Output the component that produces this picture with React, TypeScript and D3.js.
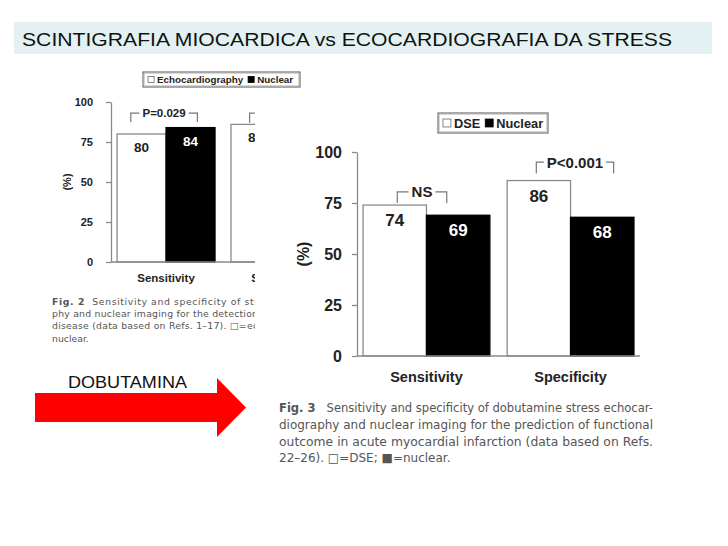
import { useRef, useEffect } from "react";
import * as d3 from "d3";

// Fig. 3 (right, full chart)
const categories = ["Sensitivity", "Specificity"];
const seriesRight = ["DSE", "Nuclear"];
const dseValues = [74, 86];
const nuclearValues = [69, 68];

// Fig. 2 (left, partly covered)
const seriesLeft = ["Echocardiography", "Nuclear"];
const echoValues = [80, 86];
const nuclearLeftValues: (number | null)[] = [84, null];

const yTicks = [0, 25, 50, 75, 100];

const bracketsRight = [
  { cat: "Sensitivity", from: 0.27, to: 0.66, top: 80.5, leg: 75, label: "NS" },
  { cat: "Specificity", from: 0.23, to: 0.84, top: 95, leg: 89.5, label: "P<0.001" },
];
const bracketsLeft = [
  { cat: "Sensitivity", from: 0.14, to: 0.82, top: 93, leg: 87.5, label: "P=0.029" },
  { cat: "Specificity", from: 0.19, to: 0.8, top: 93, leg: 87, label: "P<0.001" },
];

const title = "SCINTIGRAFIA MIOCARDICA vs ECOCARDIOGRAFIA DA STRESS";
const arrowLabel = "DOBUTAMINA";
const captionLeft = [
  "Sensitivity and specificity of str",
  "phy and nuclear imaging for the detection",
  "disease (data based on Refs. 1\u201317). \u25a1=ec",
  "nuclear.",
];
const captionRight = [
  "Sensitivity and specificity of dobutamine stress echocar-",
  "diography and nuclear imaging for the prediction of functional",
  "outcome in acute myocardial infarction (data based on Refs.",
  "22\u201326). \u25a1=DSE; \u25a0=nuclear.",
];

const FONT = "Liberation Sans, Arial, sans-serif";
const CAP = "DejaVu Sans, Verdana, sans-serif";

type Opts = {
  g: d3.Selection<SVGGElement, unknown, null, undefined>;
  y0: number; y1: number; xr: [number, number];
  padIn: number; padOut: number;
  series: string[]; values: (number | null)[][];
  brackets: typeof bracketsRight;
  tickFont: number; tickPad: number; catFont: number; catDy: number;
  valFont: number; valDy: number; brFont: number; pctX: number;
};

function drawChart(o: Opts) {
  const { g } = o;
  const y = d3.scaleLinear().domain([0, 100]).range([o.y0, o.y1]);
  const x0 = d3.scaleBand().domain(categories).range(o.xr).paddingInner(o.padIn).paddingOuter(o.padOut);
  const x1 = d3.scaleBand().domain(o.series).range([0, x0.bandwidth()]);

  // bars
  categories.forEach((c, ci) => {
    o.series.forEach((s, si) => {
      const v = o.values[si][ci];
      if (v == null) return;
      const bx = (x0(c) || 0) + (x1(s) || 0);
      g.append("rect")
        .attr("x", bx).attr("y", y(v))
        .attr("width", x1.bandwidth()).attr("height", o.y0 - y(v))
        .attr("fill", si === 0 ? "#fff" : "#000")
        .attr("stroke", si === 0 ? "#8a8a8a" : "#000")
        .attr("stroke-width", 1.3);
      g.append("text")
        .attr("x", bx + x1.bandwidth() / 2)
        .attr("y", y(v) + o.valDy)
        .attr("text-anchor", "middle")
        .attr("font-family", FONT).attr("font-weight", "bold")
        .attr("font-size", o.valFont)
        .attr("fill", si === 0 ? "#222" : "#fff")
        .text(v);
    });
  });

  // baseline
  g.append("line")
    .attr("x1", o.xr[0]).attr("x2", o.xr[1])
    .attr("y1", o.y0).attr("y2", o.y0)
    .attr("stroke", "#8a8a8a").attr("stroke-width", 1.3);

  // y axis
  g.append("g")
    .attr("transform", `translate(${o.xr[0]},0)`)
    .call(d3.axisLeft(y).tickValues(yTicks).tickSize(5).tickSizeOuter(0).tickPadding(o.tickPad))
    .call((a) => a.select(".domain").attr("stroke", "#8a8a8a").attr("stroke-width", 1.3))
    .call((a) => a.selectAll(".tick line").attr("stroke", "#8a8a8a").attr("stroke-width", 1.3))
    .call((a) =>
      a.selectAll(".tick text")
        .attr("font-family", FONT).attr("font-weight", "bold")
        .attr("font-size", o.tickFont).attr("fill", "#222")
    );

  // (%)
  g.append("text")
    .attr("transform", `translate(${o.pctX},${y(50)}) rotate(-90)`)
    .attr("text-anchor", "middle").attr("dy", "0.35em")
    .attr("font-family", FONT).attr("font-weight", "bold")
    .attr("font-size", o.tickFont).attr("fill", "#222")
    .text("(%)");

  // category labels
  categories.forEach((c) => {
    g.append("text")
      .attr("x", (x0(c) || 0) + x0.bandwidth() / 2)
      .attr("y", o.y0 + o.catDy)
      .attr("text-anchor", "middle")
      .attr("font-family", FONT).attr("font-weight", "bold")
      .attr("font-size", o.catFont).attr("fill", "#222")
      .text(c);
  });

  // significance brackets
  o.brackets.forEach((b) => {
    const gx = x0(b.cat) || 0;
    const xl = gx + x0.bandwidth() * b.from;
    const xr = gx + x0.bandwidth() * b.to;
    const yt = y(b.top);
    const yl = y(b.leg);
    const t = g.append("text")
      .attr("x", (xl + xr) / 2).attr("y", yt).attr("dy", "0.36em")
      .attr("text-anchor", "middle")
      .attr("font-family", FONT).attr("font-weight", "bold")
      .attr("font-size", o.brFont).attr("fill", "#222")
      .text(b.label);
    const w = (t.node() as SVGTextElement).getComputedTextLength();
    const gap = 3;
    const tl = (xl + xr) / 2 - w / 2 - gap;
    const tr = (xl + xr) / 2 + w / 2 + gap;
    g.append("path")
      .attr("d", `M${xl},${yl}V${yt}H${tl}M${tr},${yt}H${xr}V${yl}`)
      .attr("fill", "none").attr("stroke", "#777").attr("stroke-width", 1.2);
  });
}

function legend(
  g: d3.Selection<SVGGElement, unknown, null, undefined>,
  x: number, y: number, w: number, h: number, names: string[], fs: number
) {
  g.append("rect").attr("x", x).attr("y", y).attr("width", w).attr("height", h)
    .attr("fill", "#fff").attr("stroke", "#555").attr("stroke-width", 1);
  g.append("rect").attr("x", x + 1.5).attr("y", y + 1.5).attr("width", w - 3).attr("height", h - 3)
    .attr("fill", "none").attr("stroke", "#bbb").attr("stroke-width", 0.6);
  const sq = fs * 0.62;
  let cx = x + 5;
  names.forEach((n, i) => {
    g.append("rect").attr("x", cx).attr("y", y + h / 2 - sq / 2).attr("width", sq).attr("height", sq)
      .attr("fill", i === 0 ? "#fff" : "#000").attr("stroke", i === 0 ? "#666" : "#000").attr("stroke-width", 0.8);
    const t = g.append("text").attr("x", cx + sq + 3).attr("y", y + h / 2).attr("dy", "0.36em")
      .attr("font-family", FONT).attr("font-weight", "bold").attr("font-size", fs).attr("fill", "#222")
      .text(n);
    cx += sq + 3 + (t.node() as SVGTextElement).getComputedTextLength() + 5;
  });
}

export default function App() {
  const ref = useRef<SVGSVGElement>(null);

  useEffect(() => {
    if (!ref.current) return;
    const svg = d3.select(ref.current);
    svg.selectAll("*").remove();

    // title bar
    svg.append("rect").attr("x", 14).attr("y", 22).attr("width", 698).attr("height", 32).attr("fill", "#e3f1f3");
    svg.append("text").attr("x", 22).attr("y", 45.5)
      .attr("font-family", FONT).attr("font-size", 18.5).attr("fill", "#111")
      .attr("textLength", 650).attr("lengthAdjust", "spacingAndGlyphs")
      .text(title);

    // left figure, covered on the right by the second figure
    svg.append("clipPath").attr("id", "leftclip")
      .append("rect").attr("x", 0).attr("y", 0).attr("width", 255).attr("height", 546);
    const left = svg.append("g").attr("clip-path", "url(#leftclip)");
    drawChart({
      g: left, y0: 262, y1: 102, xr: [111, 335], padIn: 0.14, padOut: 0.053,
      series: seriesLeft, values: [echoValues, nuclearLeftValues], brackets: bracketsLeft,
      tickFont: 11, tickPad: 13, catFont: 11.5, catDy: 20, valFont: 13.5, valDy: 18,
      brFont: 11.5, pctX: 67,
    });
    legend(svg as any, 143, 72, 157, 15, seriesLeft, 9.8);

    captionLeft.forEach((line, i) => {
      const t = left.append("text").attr("x", 52).attr("y", 305 + i * 12.2)
        .attr("font-family", CAP).attr("font-size", 9.3).attr("fill", "#555");
      if (i === 0) {
        t.append("tspan").attr("font-weight", "bold").text("Fig. 2");
        t.append("tspan").text("\u00a0\u00a0" + line);
        t.attr("textLength", 206).attr("lengthAdjust", "spacing");
      } else {
        t.text(line);
        if (i < 3) t.attr("textLength", 206).attr("lengthAdjust", "spacing");
      }
    });

    // right figure
    const right = svg.append("g");
    drawChart({
      g: right, y0: 356, y1: 152, xr: [357, 640], padIn: 0.12, padOut: 0.042,
      series: seriesRight, values: [dseValues, nuclearValues], brackets: bracketsRight,
      tickFont: 16, tickPad: 10, catFont: 14.5, catDy: 26, valFont: 17, valDy: 21,
      brFont: 15, pctX: 303,
    });
    legend(right, 438, 113, 110, 20, seriesRight, 12.8);

    captionRight.forEach((line, i) => {
      const t = right.append("text").attr("x", 279).attr("y", 412 + i * 16.8)
        .attr("font-family", CAP).attr("font-size", 12).attr("fill", "#555");
      if (i === 0) {
        t.append("tspan").attr("font-weight", "bold").text("Fig. 3");
        t.append("tspan").text("\u00a0\u00a0\u00a0" + line);
      } else {
        t.text(line);
      }
      if (i < 3) t.attr("textLength", 374).attr("lengthAdjust", "spacingAndGlyphs");
    });

    // arrow
    svg.append("path")
      .attr("d", "M35,393H217V378L246,407.5L217,437V422H35Z")
      .attr("fill", "#ff0000");
    svg.append("text").attr("x", 68).attr("y", 388)
      .attr("font-family", FONT).attr("font-size", 16).attr("fill", "#111")
      .attr("textLength", 119).attr("lengthAdjust", "spacingAndGlyphs")
      .text(arrowLabel);
  }, []);

  return (
    <svg
      ref={ref}
      width={728}
      height={546}
      style={{ position: "absolute", left: 0, top: 0, background: "#fff" }}
    />
  );
}
